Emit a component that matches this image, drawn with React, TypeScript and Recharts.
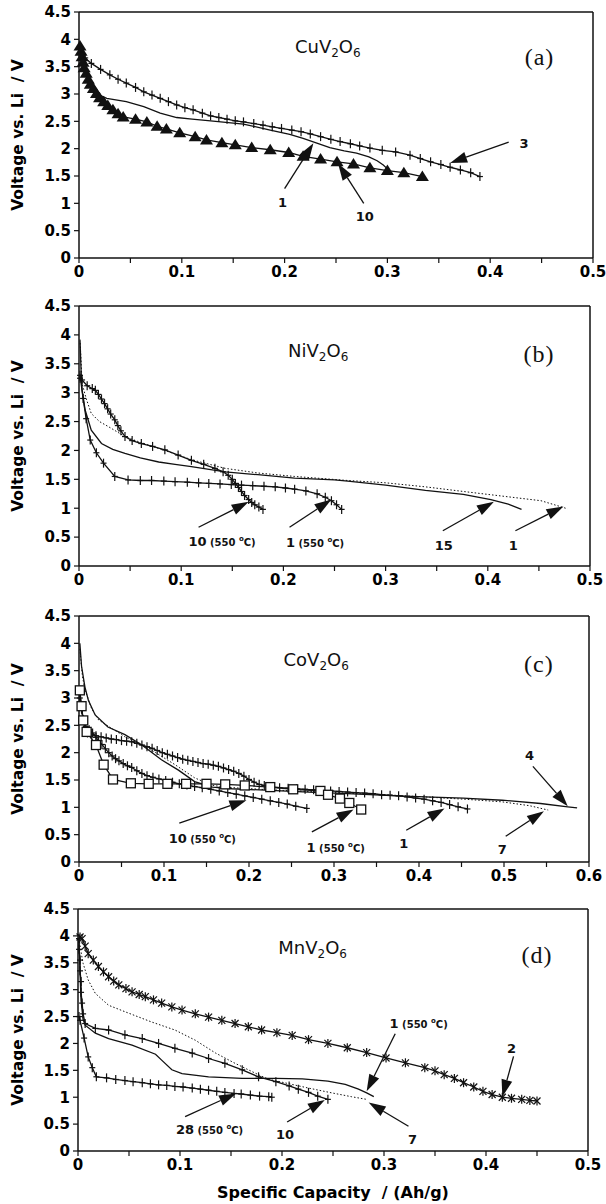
import React from 'react';
import { LineChart, Line, XAxis, YAxis, ReferenceLine, ReferenceDot } from 'recharts';

type Pt = [number, number]; // [capacity Ah/g, voltage V]
type Mark = 'plus' | 'star' | 'tri' | 'square' | 'none';

// ---------- (a) CuV2O6 ----------
const cuCycle3: Pt[] = [
  [0.002, 3.74], [0.006, 3.66], [0.012, 3.56], [0.021, 3.45], [0.03, 3.35], [0.038, 3.27], [0.046, 3.2],
  [0.055, 3.12], [0.063, 3.04], [0.071, 2.98], [0.079, 2.92], [0.087, 2.86], [0.095, 2.8], [0.103, 2.75],
  [0.111, 2.71], [0.12, 2.65], [0.128, 2.6], [0.136, 2.57], [0.144, 2.54], [0.152, 2.51], [0.16, 2.49],
  [0.17, 2.46], [0.179, 2.43], [0.188, 2.4], [0.197, 2.37], [0.207, 2.34], [0.216, 2.31], [0.225, 2.27],
  [0.235, 2.22], [0.245, 2.17], [0.254, 2.13], [0.264, 2.09], [0.273, 2.05], [0.283, 2.01], [0.295, 1.97],
  [0.308, 1.94], [0.322, 1.88], [0.332, 1.82], [0.342, 1.76], [0.352, 1.71], [0.361, 1.66], [0.371, 1.61],
  [0.381, 1.56], [0.39, 1.49],
];
const cuCycle1: Pt[] = [
  [0.001, 3.72], [0.004, 3.5], [0.008, 3.28], [0.013, 3.1], [0.019, 2.99], [0.027, 2.92], [0.046, 2.86],
  [0.063, 2.77], [0.079, 2.65], [0.095, 2.57], [0.11, 2.54], [0.128, 2.51], [0.16, 2.45], [0.186, 2.34],
  [0.205, 2.26], [0.218, 2.19], [0.23, 2.11], [0.244, 2.02], [0.258, 1.96], [0.27, 1.92], [0.282, 1.85],
  [0.29, 1.78], [0.296, 1.7], [0.3, 1.63],
];
const cuCycle10: Pt[] = [
  [0.001, 3.88], [0.002, 3.78], [0.003, 3.68], [0.004, 3.58], [0.005, 3.48], [0.007, 3.38], [0.009, 3.27],
  [0.011, 3.18], [0.014, 3.1], [0.017, 3.01], [0.02, 2.93], [0.024, 2.86], [0.028, 2.79], [0.033, 2.71],
  [0.038, 2.64], [0.043, 2.58], [0.055, 2.54], [0.066, 2.49], [0.076, 2.41], [0.085, 2.36], [0.098, 2.29],
  [0.113, 2.22], [0.124, 2.16], [0.139, 2.11], [0.152, 2.07], [0.168, 2.02], [0.186, 1.98], [0.204, 1.93],
  [0.218, 1.86], [0.235, 1.81], [0.251, 1.76], [0.267, 1.72], [0.283, 1.65], [0.3, 1.6], [0.316, 1.56],
  [0.334, 1.49],
];

// ---------- (b) NiV2O6 ----------
const niCycle1: Pt[] = [
  [0.001, 3.92], [0.002, 3.55], [0.003, 3.16], [0.007, 2.9], [0.012, 2.64], [0.02, 2.5], [0.029, 2.41],
  [0.045, 2.24], [0.06, 2.14], [0.084, 2.0], [0.11, 1.84], [0.143, 1.69], [0.175, 1.61], [0.211, 1.55],
  [0.263, 1.48], [0.3, 1.44], [0.339, 1.37], [0.376, 1.29], [0.414, 1.21], [0.452, 1.13], [0.467, 1.05],
  [0.478, 0.99],
];
const niCycle15: Pt[] = [
  [0.001, 3.9], [0.002, 3.4], [0.003, 3.05], [0.006, 2.7], [0.012, 2.35], [0.022, 2.12], [0.033, 2.02],
  [0.045, 1.95], [0.06, 1.87], [0.078, 1.8], [0.094, 1.76], [0.11, 1.72], [0.143, 1.63], [0.175, 1.58],
  [0.211, 1.52], [0.25, 1.49], [0.263, 1.47], [0.3, 1.4], [0.339, 1.31], [0.376, 1.24], [0.403, 1.15],
  [0.42, 1.07], [0.433, 0.98],
];
const ni550Cycle1: Pt[] = [
  [0.001, 3.3], [0.004, 2.9], [0.007, 2.55], [0.011, 2.18], [0.017, 1.96], [0.024, 1.78], [0.035, 1.55],
  [0.048, 1.49], [0.06, 1.48], [0.071, 1.48], [0.083, 1.47], [0.094, 1.46], [0.106, 1.45], [0.117, 1.44],
  [0.127, 1.43], [0.138, 1.42], [0.149, 1.41], [0.159, 1.4], [0.17, 1.39], [0.181, 1.38], [0.192, 1.37],
  [0.202, 1.35], [0.211, 1.33], [0.222, 1.3], [0.233, 1.25], [0.241, 1.19], [0.247, 1.13], [0.252, 1.06],
  [0.257, 0.98],
];
const ni550Cycle10: Pt[] = [
  [0.001, 3.25], [0.003, 3.22], [0.008, 3.12], [0.013, 3.07], [0.016, 3.04], [0.019, 2.97], [0.022, 2.89],
  [0.025, 2.81], [0.028, 2.72], [0.031, 2.63], [0.035, 2.53], [0.038, 2.43], [0.041, 2.34], [0.045, 2.24],
  [0.052, 2.17], [0.061, 2.12], [0.072, 2.07], [0.084, 2.01], [0.097, 1.92], [0.11, 1.83], [0.122, 1.76],
  [0.133, 1.69], [0.141, 1.63], [0.146, 1.57], [0.15, 1.5], [0.153, 1.43], [0.156, 1.36], [0.159, 1.29],
  [0.162, 1.22], [0.166, 1.15], [0.169, 1.1], [0.172, 1.06], [0.176, 1.02], [0.18, 0.98],
];

// ---------- (c) CoV2O6 ----------
const coCycle4: Pt[] = [
  [0.001, 4.0], [0.003, 3.58], [0.007, 3.2], [0.011, 2.96], [0.019, 2.69], [0.034, 2.47], [0.054, 2.33],
  [0.074, 2.14], [0.097, 1.87], [0.117, 1.68], [0.136, 1.47], [0.157, 1.37], [0.18, 1.34], [0.225, 1.31],
  [0.27, 1.28], [0.316, 1.25], [0.361, 1.22], [0.407, 1.19], [0.452, 1.17], [0.498, 1.13], [0.543, 1.07],
  [0.575, 1.01], [0.586, 0.99],
];
const coCycle7: Pt[] = [
  [0.001, 3.9], [0.004, 3.4], [0.007, 3.15], [0.015, 2.8], [0.023, 2.6], [0.054, 2.29], [0.085, 2.05],
  [0.113, 1.78], [0.136, 1.54], [0.157, 1.4], [0.18, 1.36], [0.225, 1.32], [0.27, 1.29], [0.316, 1.26],
  [0.361, 1.23], [0.407, 1.19], [0.452, 1.15], [0.498, 1.1], [0.53, 1.03], [0.552, 0.95],
];
const coCycle1: Pt[] = [
  [0.001, 3.08], [0.003, 2.8], [0.005, 2.6], [0.007, 2.42], [0.01, 2.36], [0.015, 2.33], [0.02, 2.31],
  [0.026, 2.29], [0.032, 2.27], [0.038, 2.25], [0.044, 2.24], [0.05, 2.22], [0.056, 2.21], [0.062, 2.2],
  [0.068, 2.17], [0.074, 2.14], [0.08, 2.11], [0.086, 2.08], [0.092, 2.04], [0.098, 2.0], [0.104, 1.97],
  [0.11, 1.94], [0.116, 1.91], [0.122, 1.88], [0.128, 1.86], [0.134, 1.84], [0.14, 1.82], [0.146, 1.8],
  [0.152, 1.79], [0.158, 1.77], [0.164, 1.75], [0.17, 1.72], [0.176, 1.69], [0.182, 1.66], [0.188, 1.62],
  [0.194, 1.57], [0.2, 1.51], [0.206, 1.46], [0.212, 1.42], [0.218, 1.4], [0.226, 1.38], [0.236, 1.36],
  [0.246, 1.35], [0.256, 1.34], [0.266, 1.33], [0.276, 1.32], [0.286, 1.31], [0.296, 1.3], [0.306, 1.29],
  [0.316, 1.28], [0.326, 1.27], [0.336, 1.26], [0.346, 1.25], [0.356, 1.23], [0.366, 1.22], [0.376, 1.21],
  [0.386, 1.19], [0.396, 1.17], [0.406, 1.15], [0.416, 1.12], [0.426, 1.09], [0.436, 1.05], [0.446, 1.01],
  [0.457, 0.97],
];
const co550Cycle10: Pt[] = [
  [0.001, 3.0], [0.003, 2.8], [0.005, 2.6], [0.008, 2.48], [0.012, 2.42], [0.016, 2.36], [0.02, 2.28],
  [0.023, 2.22], [0.027, 2.15], [0.031, 2.07], [0.035, 2.0], [0.039, 1.94], [0.043, 1.89], [0.047, 1.85],
  [0.052, 1.8], [0.057, 1.76], [0.062, 1.73], [0.068, 1.67], [0.074, 1.62], [0.08, 1.58], [0.087, 1.55],
  [0.094, 1.52], [0.102, 1.49], [0.11, 1.46], [0.118, 1.43], [0.127, 1.41], [0.136, 1.38], [0.145, 1.36],
  [0.155, 1.33], [0.165, 1.3], [0.175, 1.27], [0.185, 1.24], [0.195, 1.21], [0.205, 1.18], [0.215, 1.15],
  [0.225, 1.12], [0.235, 1.09], [0.245, 1.06], [0.255, 1.02], [0.268, 0.98],
];
const co550Cycle1: Pt[] = [
  [0.001, 3.14], [0.003, 2.85], [0.005, 2.59], [0.009, 2.38], [0.02, 2.14], [0.029, 1.78], [0.04, 1.51],
  [0.061, 1.44], [0.082, 1.43], [0.104, 1.43], [0.126, 1.43], [0.15, 1.43], [0.172, 1.42], [0.195, 1.4],
  [0.225, 1.37], [0.252, 1.33], [0.284, 1.3], [0.293, 1.23], [0.307, 1.16], [0.318, 1.08], [0.332, 0.96],
];

// ---------- (d) MnV2O6 ----------
const mnCycle2: Pt[] = [
  [0.002, 3.98], [0.004, 3.95], [0.007, 3.81], [0.01, 3.67], [0.015, 3.55], [0.02, 3.43], [0.025, 3.33],
  [0.03, 3.24], [0.035, 3.16], [0.04, 3.09], [0.047, 3.02], [0.053, 2.96], [0.06, 2.91], [0.066, 2.87],
  [0.074, 2.81], [0.082, 2.75], [0.092, 2.68], [0.102, 2.62], [0.115, 2.55], [0.128, 2.49], [0.141, 2.43],
  [0.154, 2.37], [0.167, 2.31], [0.18, 2.25], [0.195, 2.2], [0.21, 2.15], [0.226, 2.07], [0.245, 2.0],
  [0.264, 1.92], [0.283, 1.83], [0.302, 1.73], [0.321, 1.64], [0.34, 1.55], [0.35, 1.49], [0.359, 1.42],
  [0.369, 1.35], [0.378, 1.27], [0.388, 1.19], [0.397, 1.11], [0.406, 1.05], [0.416, 1.0], [0.425, 0.98],
  [0.435, 0.96], [0.443, 0.94], [0.45, 0.93],
];
const mnCycle7: Pt[] = [
  [0.001, 3.95], [0.003, 3.7], [0.005, 3.49], [0.01, 3.18], [0.017, 2.93], [0.03, 2.71], [0.046, 2.59],
  [0.072, 2.4], [0.095, 2.25], [0.115, 2.06], [0.135, 1.82], [0.154, 1.63], [0.167, 1.51], [0.18, 1.39],
  [0.188, 1.33], [0.207, 1.25], [0.226, 1.17], [0.249, 1.08], [0.268, 1.01], [0.283, 0.96],
];
const mn550Cycle1: Pt[] = [
  [0.001, 3.9], [0.002, 3.3], [0.003, 2.8], [0.005, 2.45], [0.007, 2.34], [0.017, 2.19], [0.03, 2.09],
  [0.053, 1.97], [0.076, 1.8], [0.082, 1.69], [0.092, 1.51], [0.102, 1.44], [0.128, 1.38], [0.161, 1.35],
  [0.194, 1.35], [0.22, 1.34], [0.245, 1.3], [0.262, 1.24], [0.275, 1.15], [0.283, 1.08], [0.29, 1.01],
];
const mnCycle10: Pt[] = [
  [0.001, 3.95], [0.001, 3.75], [0.002, 3.55], [0.002, 3.35], [0.003, 3.15], [0.003, 2.95], [0.004, 2.75],
  [0.005, 2.55], [0.007, 2.37], [0.017, 2.28], [0.03, 2.25], [0.046, 2.16], [0.063, 2.09], [0.079, 2.0],
  [0.095, 1.91], [0.112, 1.82], [0.128, 1.72], [0.144, 1.63], [0.161, 1.51], [0.177, 1.38], [0.194, 1.29],
  [0.207, 1.21], [0.216, 1.15], [0.226, 1.09], [0.235, 1.02], [0.245, 0.96],
];
const mn550Cycle28: Pt[] = [
  [0.001, 2.5], [0.002, 2.43], [0.006, 2.1], [0.01, 1.75], [0.014, 1.55], [0.018, 1.38], [0.028, 1.36],
  [0.037, 1.33], [0.046, 1.31], [0.054, 1.29], [0.063, 1.27], [0.071, 1.25], [0.079, 1.23], [0.087, 1.22],
  [0.095, 1.2], [0.103, 1.19], [0.112, 1.17], [0.12, 1.15], [0.128, 1.13], [0.136, 1.11], [0.144, 1.09],
  [0.153, 1.07], [0.16, 1.06], [0.169, 1.04], [0.178, 1.02], [0.187, 1.01], [0.19, 1.0],
];

// ---------- ticks ----------
const voltTicks = [0, 0.5, 1, 1.5, 2, 2.5, 3, 3.5, 4, 4.5];
const capTicksHalf = [0, 0.05, 0.1, 0.15, 0.2, 0.25, 0.3, 0.35, 0.4, 0.45, 0.5];
const capTicksSix = [0, 0.05, 0.1, 0.15, 0.2, 0.25, 0.3, 0.35, 0.4, 0.45, 0.5, 0.55, 0.6];

interface Series { id: string; pts: Pt[]; mark: Mark; dotted?: boolean }
interface Note { label: string; hot?: boolean; at: Pt; tail: Pt; tip: Pt }

// ---------- annotations (cycle numbers with arrows) ----------
const cuNotes: Note[] = [
  { label: '3', at: [0.433, 2.11], tail: [0.418, 2.12], tip: [0.361, 1.74] },
  { label: '1', at: [0.198, 1.02], tail: [0.2, 1.27], tip: [0.228, 2.1] },
  { label: '10', at: [0.278, 0.77], tail: [0.277, 1.0], tip: [0.252, 1.73] },
];
const niNotes: Note[] = [
  { label: '10', hot: true, at: [0.14, 0.44], tail: [0.117, 0.67], tip: [0.166, 1.11] },
  { label: '1', hot: true, at: [0.231, 0.42], tail: [0.206, 0.67], tip: [0.247, 1.15] },
  { label: '15', at: [0.357, 0.36], tail: [0.356, 0.61], tip: [0.406, 1.11] },
  { label: '1', at: [0.425, 0.36], tail: [0.427, 0.61], tip: [0.474, 1.03] },
];
const coNotes: Note[] = [
  { label: '10', hot: true, at: [0.145, 0.43], tail: [0.118, 0.71], tip: [0.197, 1.13] },
  { label: '1', hot: true, at: [0.302, 0.27], tail: [0.274, 0.55], tip: [0.323, 0.96] },
  { label: '1', at: [0.382, 0.34], tail: [0.385, 0.58], tip: [0.43, 0.98] },
  { label: '7', at: [0.498, 0.24], tail: [0.502, 0.47], tip: [0.547, 0.93] },
  { label: '4', at: [0.53, 1.95], tail: [0.534, 1.75], tip: [0.575, 1.02] },
];
const mnNotes: Note[] = [
  { label: '1', hot: true, at: [0.334, 2.38], tail: [0.311, 2.18], tip: [0.283, 1.11] },
  { label: '2', at: [0.425, 1.92], tail: [0.427, 1.76], tip: [0.416, 1.01] },
  { label: '28', hot: true, at: [0.129, 0.4], tail: [0.105, 0.64], tip: [0.155, 1.07] },
  { label: '10', at: [0.203, 0.31], tail: [0.205, 0.54], tip: [0.242, 0.95] },
  { label: '7', at: [0.328, 0.23], tail: [0.324, 0.46], tip: [0.285, 0.9] },
];

const INK = '#111';
const SANS = '"DejaVu Sans", sans-serif';
const rows = (pts: Pt[]) => pts.map(([cap, volt]) => ({ cap, volt }));

const capLabel = (v: number) => {
  const h = Math.round(v * 100);
  if (h % 10 !== 0) return '';
  return h === 0 ? '0' : String(h / 100);
};

function Marker({ kind, cx, cy }: { kind: Mark; cx: number; cy: number }) {
  if (cx == null || cy == null) return null;
  const sw = 1.2;
  if (kind === 'plus') {
    return (
      <g stroke={INK} strokeWidth={sw}>
        <line x1={cx} y1={cy - 4.5} x2={cx} y2={cy + 4.5} />
        <line x1={cx - 3} y1={cy} x2={cx + 3} y2={cy} />
      </g>
    );
  }
  if (kind === 'star') {
    return (
      <g stroke={INK} strokeWidth={sw}>
        <line x1={cx} y1={cy - 4.5} x2={cx} y2={cy + 4.5} />
        <line x1={cx - 3.5} y1={cy - 3.5} x2={cx + 3.5} y2={cy + 3.5} />
        <line x1={cx - 3.5} y1={cy + 3.5} x2={cx + 3.5} y2={cy - 3.5} />
      </g>
    );
  }
  if (kind === 'tri') {
    return <polygon points={`${cx},${cy - 6} ${cx + 6.5},${cy + 4.5} ${cx - 6.5},${cy + 4.5}`} fill={INK} />;
  }
  if (kind === 'square') {
    return <rect x={cx - 4.5} y={cy - 4.5} width={9} height={9} fill="#fff" stroke={INK} strokeWidth={1.3} />;
  }
  return null;
}

const Arrow = (p: any) => {
  const { x1, y1, x2, y2 } = p;
  const dx = x2 - x1;
  const dy = y2 - y1;
  const len = Math.hypot(dx, dy) || 1;
  const ux = dx / len;
  const uy = dy / len;
  const L = 17;
  const w = 5.5;
  const bx = x2 - ux * L;
  const by = y2 - uy * L;
  return (
    <g>
      <line x1={x1} y1={y1} x2={bx} y2={by} stroke={INK} strokeWidth={1.3} />
      <polygon
        points={`${x2},${y2} ${bx - uy * w},${by + ux * w} ${bx + uy * w},${by - ux * w}`}
        fill={INK}
      />
    </g>
  );
};

function NoteText({ cx, cy, note }: { cx: number; cy: number; note: Note }) {
  return (
    <text x={cx} y={cy} dy={5} textAnchor="middle" fontFamily={SANS} fontWeight={700} fontSize={13} fill={INK}>
      {note.label}
      {note.hot && (
        <>
          <tspan fontSize={10}>{' (550 '}</tspan>
          <tspan fontSize={7} dy={-5}>o</tspan>
          <tspan fontSize={10} dy={5}>C)</tspan>
        </>
      )}
    </text>
  );
}

interface PanelProps {
  top: number;
  bottom: number;
  left: number;
  right: number;
  xMax: number;
  xTicks: number[];
  series: Series[];
  notes: Note[];
  metal: string;
  tag: string;
  titleAt: Pt;
  tagAt: Pt;
  xLabel?: string;
}

function Panel(props: PanelProps) {
  const { top, bottom, left, right, xMax, xTicks, series, notes, metal, tag, titleAt, tagAt, xLabel } = props;
  const axisH = xLabel ? 52 : 30;
  const h = 10 + (bottom - top) + axisH;
  const tickStyle = { fontFamily: SANS, fontWeight: 700, fontSize: 15, fill: '#000' };
  return (
    <div style={{ position: 'absolute', left: 0, top: top - 10 }}>
      <LineChart width={606} height={h} margin={{ top: 10, right: 606 - right, bottom: 0, left: 0 }}>
        <XAxis
          dataKey="cap"
          type="number"
          domain={[0, xMax]}
          ticks={xTicks}
          interval={0}
          tickFormatter={capLabel}
          tick={tickStyle}
          tickSize={5}
          tickMargin={3}
          height={axisH}
          axisLine={{ stroke: INK, strokeWidth: 1.5 }}
          tickLine={{ stroke: INK, strokeWidth: 1.2 }}
          label={
            xLabel
              ? {
                  value: xLabel,
                  position: 'insideBottom',
                  offset: 5,
                  style: { fontFamily: SANS, fontWeight: 700, fontSize: 16, fill: '#000' },
                }
              : undefined
          }
        />
        <YAxis
          type="number"
          domain={[0, 4.5]}
          ticks={voltTicks}
          interval={0}
          tickFormatter={(v: number) => String(v)}
          tick={tickStyle}
          tickSize={5}
          tickMargin={3}
          width={left}
          axisLine={{ stroke: INK, strokeWidth: 1.5 }}
          tickLine={{ stroke: INK, strokeWidth: 1.2 }}
          label={{
            value: 'Voltage vs. Li\u00a0 / V',
            angle: -90,
            position: 'insideLeft',
            offset: 17,
            style: { textAnchor: 'middle', fontFamily: SANS, fontWeight: 700, fontSize: 15.5, fill: '#000' },
          }}
        />
        <ReferenceLine y={4.5} stroke={INK} strokeWidth={1.5} />
        <ReferenceLine x={xMax} stroke={INK} strokeWidth={1.5} />
        {series.map((s) => (
          <Line
            key={s.id}
            data={rows(s.pts)}
            dataKey="volt"
            type="linear"
            stroke={INK}
            strokeWidth={s.dotted ? 1 : 1.3}
            strokeDasharray={s.dotted ? '1.5 2' : undefined}
            dot={
              s.mark === 'none'
                ? false
                : (p: any) => <Marker key={`${s.id}-${p.index}`} kind={s.mark} cx={p.cx} cy={p.cy} />
            }
            activeDot={false}
            isAnimationActive={false}
          />
        ))}
        {notes.map((n, i) => (
          <ReferenceLine
            key={`arrow-${i}`}
            segment={[{ x: n.tail[0], y: n.tail[1] }, { x: n.tip[0], y: n.tip[1] }]}
            shape={Arrow}
            ifOverflow="visible"
          />
        ))}
        {notes.map((n, i) => (
          <ReferenceDot
            key={`note-${i}`}
            x={n.at[0]}
            y={n.at[1]}
            r={0}
            ifOverflow="visible"
            shape={(p: any) => <NoteText cx={p.cx} cy={p.cy} note={n} />}
          />
        ))}
        <ReferenceDot
          x={titleAt[0]}
          y={titleAt[1]}
          r={0}
          ifOverflow="visible"
          shape={(p: any) => (
            <text x={p.cx} y={p.cy} dy={6} textAnchor="middle" fontFamily={SANS} fontSize={18} fill={INK}>
              {metal}V
              <tspan fontSize={12} dy={4}>2</tspan>
              <tspan dy={-4}>O</tspan>
              <tspan fontSize={12} dy={4}>6</tspan>
            </text>
          )}
        />
        <ReferenceDot
          x={tagAt[0]}
          y={tagAt[1]}
          r={0}
          ifOverflow="visible"
          shape={(p: any) => (
            <text x={p.cx} y={p.cy} dy={8} textAnchor="middle" fontFamily='"Liberation Serif", serif' fontSize={24} letterSpacing={1} fill={INK}>
              {tag}
            </text>
          )}
        />
      </LineChart>
    </div>
  );
}

const cuSeries: Series[] = [
  { id: 'cu3', pts: cuCycle3, mark: 'plus' },
  { id: 'cu1', pts: cuCycle1, mark: 'none' },
  { id: 'cu10', pts: cuCycle10, mark: 'tri' },
];
const niSeries: Series[] = [
  { id: 'ni1', pts: niCycle1, mark: 'none', dotted: true },
  { id: 'ni15', pts: niCycle15, mark: 'none' },
  { id: 'ni550-1', pts: ni550Cycle1, mark: 'plus' },
  { id: 'ni550-10', pts: ni550Cycle10, mark: 'plus' },
];
const coSeries: Series[] = [
  { id: 'co4', pts: coCycle4, mark: 'none' },
  { id: 'co7', pts: coCycle7, mark: 'none', dotted: true },
  { id: 'co1', pts: coCycle1, mark: 'plus' },
  { id: 'co550-10', pts: co550Cycle10, mark: 'plus' },
  { id: 'co550-1', pts: co550Cycle1, mark: 'square' },
];
const mnSeries: Series[] = [
  { id: 'mn2', pts: mnCycle2, mark: 'star' },
  { id: 'mn7', pts: mnCycle7, mark: 'none', dotted: true },
  { id: 'mn550-1', pts: mn550Cycle1, mark: 'none' },
  { id: 'mn10', pts: mnCycle10, mark: 'plus' },
  { id: 'mn550-28', pts: mn550Cycle28, mark: 'plus' },
];

export default function App() {
  return (
    <div style={{ position: 'absolute', left: 0, top: 0, width: 606, height: 1204, background: '#fff', overflow: 'hidden' }}>
      <Panel top={12} bottom={258} left={79} right={593} xMax={0.5} xTicks={capTicksHalf}
        series={cuSeries} notes={cuNotes} metal="Cu" tag="(a)" titleAt={[0.242, 3.86]} tagAt={[0.448, 3.68]} />
      <Panel top={306} bottom={566} left={79} right={590} xMax={0.5} xTicks={capTicksHalf}
        series={niSeries} notes={niNotes} metal="Ni" tag="(b)" titleAt={[0.234, 3.72]} tagAt={[0.45, 3.67]} />
      <Panel top={616} bottom={862} left={79} right={589} xMax={0.6} xTicks={capTicksSix}
        series={coSeries} notes={coNotes} metal="Co" tag="(c)" titleAt={[0.279, 3.69]} tagAt={[0.541, 3.63]} />
      <Panel top={909} bottom={1151} left={78} right={588} xMax={0.5} xTicks={capTicksHalf}
        series={mnSeries} notes={mnNotes} metal="Mn" tag="(d)" titleAt={[0.23, 3.77]} tagAt={[0.45, 3.65]}
        xLabel={'Specific Capacity\u00a0 / (Ah/g)'} />
    </div>
  );
}
